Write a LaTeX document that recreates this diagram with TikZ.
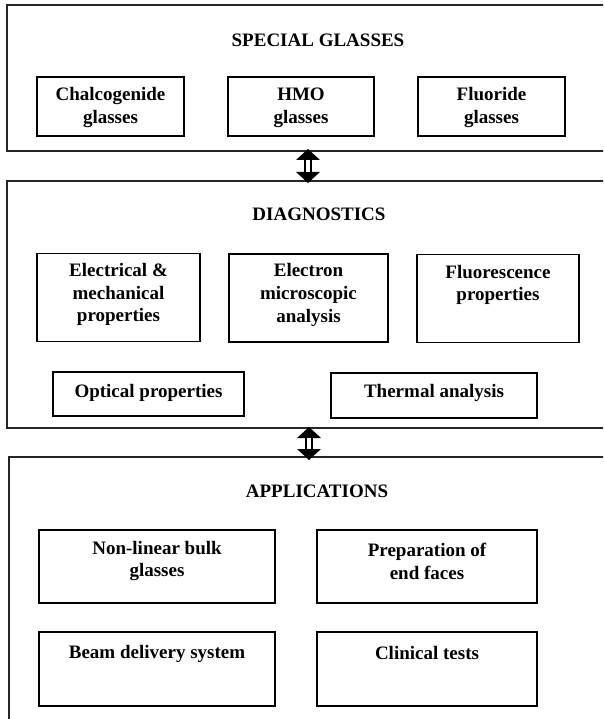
\documentclass[tikz,border=0pt]{standalone}
\usepackage{fontspec}
\setmainfont{Liberation Serif}
\usetikzlibrary{calc}
\tikzset{
  panel/.style={line width=1.1pt, draw=black!85},
  box/.style={draw, line width=1.3pt, rectangle, inner sep=0pt},
  txt/.style={font=\bfseries\fontsize{19}{22.8}\selectfont, align=center, inner sep=0pt},
  ttl/.style={font=\bfseries\fontsize{19}{23}\selectfont, inner sep=0pt},
  arrowshaft/.style={line width=1.8pt, fill=white},
}
\newcommand\hollowarrow[2]{%
  \fill (#1) -- ($(#1)+(12,11)$) -- ($(#1)+(-12,11)$) -- cycle;
  \fill (#2) -- ($(#2)+(12,-11)$) -- ($(#2)+(-12,-11)$) -- cycle;
  \draw[arrowshaft] ($(#1)+(-3.2,10.5)$) rectangle ($(#2)+(3.2,-10.5)$);}
\begin{document}
\begin{tikzpicture}[x=1pt,y=-1pt]
\useasboundingbox (0,0) rectangle (603,719);
\clip (0,0) rectangle (603,719);
\fill[white] (0,0) rectangle (603,719);
% panels
\draw[panel] (615,5) -- (7,5) -- (7,151) -- (615,151);
\draw[panel] (615,181) -- (7,181) -- (7,428) -- (615,428);
\draw[panel] (615,457) -- (9,457) -- (9,730);
% titles
\node[ttl] (t1) at (318,40.5) {SPECIAL GLASSES};
\node[ttl] (t2) at (319,214) {DIAGNOSTICS};
\node[ttl] (t3) at (317,491) {APPLICATIONS};
% special glasses boxes
\node[box, minimum width=147, minimum height=59] (chal) at (110.5,106.5) {};
\node[box, minimum width=146, minimum height=59] (hmo) at (301,106.5) {};
\node[box, minimum width=147, minimum height=59] (fluo) at (491.5,106.5) {};
\node[txt] (chalt) at (110.5,107.5) {Chalcogenide\\glasses};
\node[txt] (hmot) at (301,107.5) {HMO\\glasses};
\node[txt] (fluot) at (491.5,107.5) {Fluoride\\glasses};
% diagnostics boxes
\node[box, minimum width=163, minimum height=88] (elec) at (118.5,297.5) {};
\node[box, minimum width=159, minimum height=88] (emic) at (308.5,298) {};
\node[box, minimum width=162, minimum height=88] (fluor) at (498,298.5) {};
\node[txt] (elect) at (118.5,294.5) {Electrical \&\\mechanical\\properties};
\node[txt] (emict) at (308.5,295) {Electron\\microscopic\\analysis};
\node[txt] (fluort) at (498,285) {Fluorescence\\properties};
\node[box, minimum width=191, minimum height=44] (opt) at (148.5,394) {};
\node[box, minimum width=206, minimum height=45] (therm) at (434,395.5) {};
\node[txt] (optt) at (148.5,392.5) {Optical properties};
\node[txt] (thermt) at (434,392.5) {Thermal analysis};
% applications boxes
\node[box, minimum width=236, minimum height=73] (nonl) at (157,566.5) {};
\node[box, minimum width=220, minimum height=73] (prep) at (427,566.5) {};
\node[box, minimum width=236, minimum height=74] (beam) at (157,669) {};
\node[box, minimum width=220, minimum height=74] (clin) at (427,669) {};
\node[txt] (nonlt) at (157,561) {Non-linear bulk\\glasses};
\node[txt] (prept) at (427,561) {Preparation of\\end faces};
\node[txt] (beamt) at (157,653.5) {Beam delivery system};
\node[txt] (clint) at (427,652.5) {Clinical tests};
% double arrows
\coordinate (a1s) at (308,149);
\coordinate (a1e) at (308,183);
\coordinate (a2s) at (309,427);
\coordinate (a2e) at (309,460);
\hollowarrow{a1s}{a1e}
\hollowarrow{a2s}{a2e}
\end{tikzpicture}
\end{document}
